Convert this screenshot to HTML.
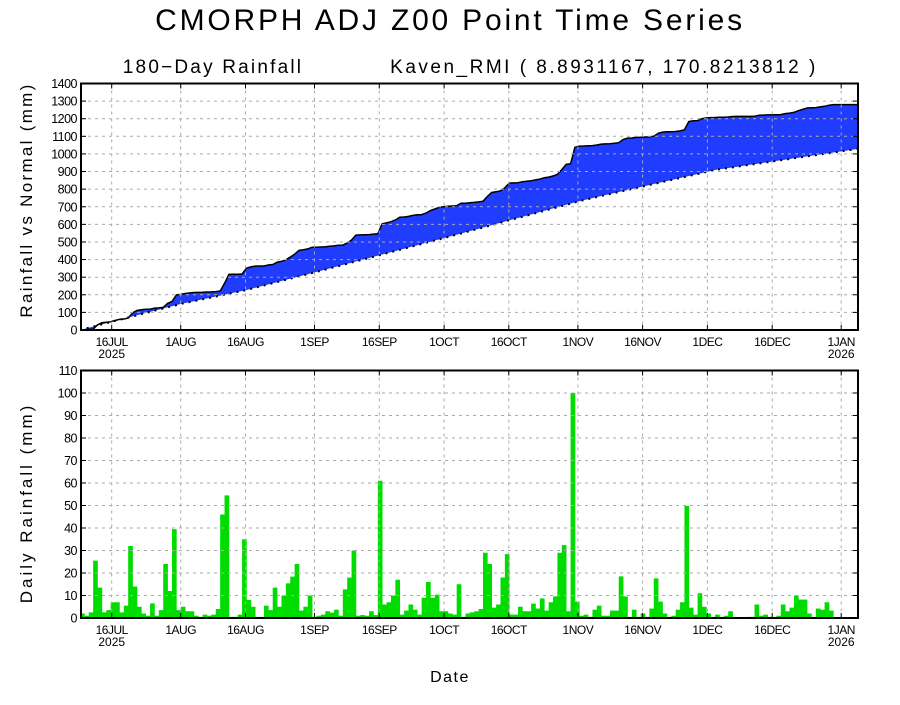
<!DOCTYPE html>
<html><head><meta charset="utf-8"><style>
html,body{margin:0;padding:0;background:#fff;}
body{width:900px;height:700px;overflow:hidden;font-family:"Liberation Sans",sans-serif;}
</style></head><body>
<svg id="s" width="900" height="700" xmlns="http://www.w3.org/2000/svg" font-family="Liberation Sans, sans-serif">
<rect width="900" height="700" fill="#fff"/>
<defs><clipPath id="c1"><rect x="81" y="80" width="777" height="560"/></clipPath></defs>
<text x="450" y="30" font-size="30" text-anchor="middle" letter-spacing="2.8">CMORPH ADJ Z00 Point Time Series</text>
<text x="213" y="73" font-size="19" text-anchor="middle" letter-spacing="2.2">180−Day Rainfall</text>
<text x="604" y="73" font-size="19" text-anchor="middle" letter-spacing="2.5">Kaven_RMI ( 8.8931167, 170.8213812 )</text>
<text transform="translate(32,200) rotate(-90)" font-size="17" text-anchor="middle" letter-spacing="2.3">Rainfall vs Normal (mm)</text>
<text transform="translate(32,503) rotate(-90)" font-size="17" text-anchor="middle" letter-spacing="3">Daily Rainfall (mm)</text>
<text x="450" y="682" font-size="16" text-anchor="middle" letter-spacing="1.5">Date</text>
<g id="g"></g>
</svg>
<script>
(function(){
var d=[2,1,2.5,25.5,13.5,2.5,3.5,7,7,2.5,5.5,32,14,5,2,1,6.5,1,3.5,24,12,39.5,3.5,5,3,3,1,0.5,1.5,1,1.5,4,46,54.5,0.5,0.5,1.5,35,8,5,0.5,0.5,5.5,3.5,13.5,
5,10,15.4,18.4,24,3.3,5,10,0.5,1,1.5,3,2.4,3.7,1,12.7,18,30,1,1.3,1,3,1.3,61,6,7,10,17,1.5,3.3,6,3.7,1.5,9,16,9,10.4,3,3,2,1.5,15,0.5,2,2.5,3,4,29,24,4.6,6,18,28.4,1.5,1.5,5,3,3,6.4,4.2,8.7,3.3,7,9.6,29,32.4,3,100,
7.3,1,1.5,0.5,3.7,5.5,1,1,3.3,3.3,18.5,9.6,0.5,3.7,0.5,2,0.5,4.2,17.6,7.3,2,0.5,1,3.7,7,49.8,4.6,1.5,11,5,2,0.5,1.5,0.5,1,3,0.5,0,0,0.5,0.5,6,1,1.5,0.5,0,1,6,3,4.6,10,8.2,8.2,2,0.5,4.2,3.7,7,3.3,0,0,0,0,0,0,0];
while(d.length<180)d.push(0);d=d.slice(0,180);
var L=81,R=858,W=4.317,X0=80,WD=4.38;
var s='';
function X(i){return Math.min(R,X0+WD*i);}
var T0=83.5,B0=330,k0=(B0-T0)/1400;
function Y0(v){return B0-v*k0;}
var cs=[0],c=0;for(var i=0;i<180;i++){c+=d[i];cs.push(c);}
var sc=1280/c;
var nk=[[0,0],[23,148],[38,227],[54,330],[84,528],[115,738],[145,909],[178,1030],[180,1032]];
function norm(t){for(var j=1;j<nk.length;j++){if(t<=nk[j][0]){var a=nk[j-1],b=nk[j];return a[1]+(b[1]-a[1])*(t-a[0])/(b[0]-a[0]);}}return 1032;}
var tp=[],bt=[];
for(var i=0;i<=180;i++){var a=cs[i]*sc;tp.push(X(i).toFixed(1)+','+Y0(a).toFixed(1));bt.push(X(i).toFixed(1)+','+Y0(norm(i)).toFixed(1));}
s+='<g clip-path="url(#c1)">';
s+='<polygon points="'+tp.join(' ')+' '+bt.slice().reverse().join(' ')+'" fill="#1f3cff"/>';
s+='<polyline points="'+tp.join(' ')+'" fill="none" stroke="#000" stroke-width="1.5"/>';
s+='<polyline points="'+bt.join(' ')+'" fill="none" stroke="#000" stroke-width="2" stroke-dasharray="2,5"/>';
var T1=370.5,B1=618,k1=(B1-T1)/110;
function Y1(v){return B1-v*k1;}
for(var i=0;i<180;i++){if(d[i]>0){var h=d[i]*k1;s+='<rect x="'+(X0+WD*i).toFixed(2)+'" y="'+(B1-h).toFixed(2)+'" width="'+(WD+0.3).toFixed(2)+'" height="'+h.toFixed(2)+'" fill="#00dc00"/>';}}
s+='</g>';
var ticks=[[7,'16JUL','2025'],[23,'1AUG'],[38,'16AUG'],[54,'1SEP'],[69,'16SEP'],[84,'1OCT'],[99,'16OCT'],[115,'1NOV'],[130,'16NOV'],[145,'1DEC'],[160,'16DEC'],[176,'1JAN','2026']];
var g='stroke="#aaa" stroke-width="1" stroke-dasharray="3,4"';
function grid(T,B,YF,step,max){
 for(var v=step;v<max;v+=step){var y=YF(v).toFixed(1);s+='<line x1="'+L+'" x2="'+R+'" y1="'+y+'" y2="'+y+'" '+g+'/>';}
 for(var t=0;t<ticks.length;t++){var x=(L+W*(ticks[t][0]+0.1)).toFixed(1);s+='<line x1="'+x+'" x2="'+x+'" y1="'+T+'" y2="'+B+'" '+g+'/>';
  s+='<line x1="'+x+'" x2="'+x+'" y1="'+B+'" y2="'+(B-5)+'" stroke="#000"/><line x1="'+x+'" x2="'+x+'" y1="'+T+'" y2="'+(T+5)+'" stroke="#000"/>';
  s+='<text x="'+x+'" y="'+(B+16)+'" font-size="12" text-anchor="middle" letter-spacing="-0.5">'+ticks[t][1]+'</text>';
  if(ticks[t][2])s+='<text x="'+x+'" y="'+(B+28)+'" font-size="12" text-anchor="middle">'+ticks[t][2]+'</text>';}
 for(var v=0;v<=max;v+=step){var y=YF(v);s+='<text x="77" y="'+(y+4.5).toFixed(1)+'" font-size="12.5" text-anchor="end" letter-spacing="-0.5">'+v+'</text>';
  s+='<line x1="'+L+'" x2="'+(L+5)+'" y1="'+y+'" y2="'+y+'" stroke="#000"/><line x1="'+R+'" x2="'+(R-5)+'" y1="'+y+'" y2="'+y+'" stroke="#000"/>';}
 s+='<rect x="'+L+'" y="'+T+'" width="'+(R-L)+'" height="'+(B-T)+'" fill="none" stroke="#000" stroke-width="2"/>';
}
grid(T0,B0,Y0,100,1400);
grid(T1,B1,Y1,10,110);
document.getElementById('g').innerHTML=s;
})();
</script>
</body></html>
